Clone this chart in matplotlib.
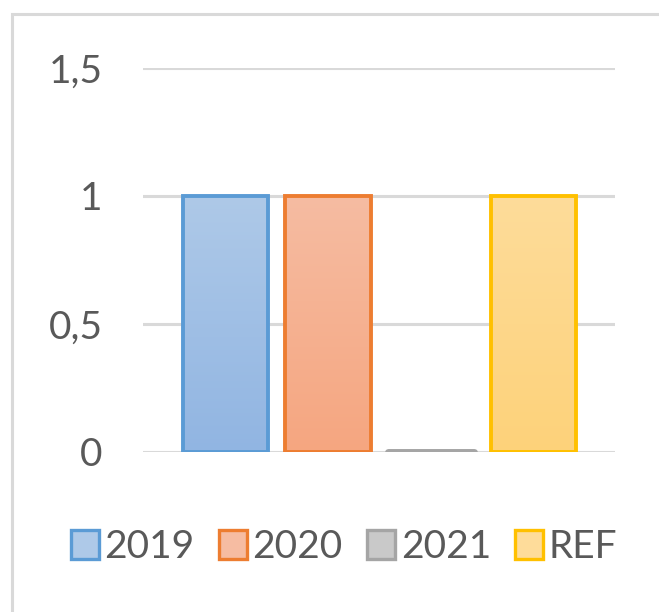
#!/usr/bin/env python3

import numpy as np
import matplotlib.pyplot as plt
from matplotlib.colors import LinearSegmentedColormap
from matplotlib.patches import Rectangle

series = ['2019', '2020', '2021', 'REF']
values = [1, 1, 0, 1]
y_ticks = [0, 0.5, 1, 1.5]
y_tick_labels = ['0', '0,5', '1', '1,5']

edge_colors = ['#5b9bd5', '#ed7d31', '#a5a5a5', '#ffc000']
top_colors = ['#aec9e8', '#f6bca2', '#c9c9c9', '#fedc9a']
bottom_colors = ['#91b5e2', '#f5a680', '#b8b8b8', '#fdd27a']

plt.rcParams['font.family'] = ['Lato', 'DejaVu Sans']

fig = plt.figure(figsize=(6.59, 6.12), dpi=100)
fig.patches.append(Rectangle((12 / 659, -0.1), 1.2, (598 + 61) / 612,
                             transform=fig.transFigure, fill=False,
                             edgecolor='#d9d9d9', linewidth=2.2))

ax = fig.add_axes([143 / 659, 160 / 612, 472 / 659, 384 / 612])
ax.set_xlim(-0.80, 3.79)
ax.set_ylim(0, 1.5)

x = np.arange(len(series))
lws = [2.8 if v > 0 else 5 for v in values]
bars = ax.bar(x, values, width=0.83, color='none', edgecolor=edge_colors,
              linewidth=lws, zorder=3)

grad = np.linspace(0, 1, 256).reshape(-1, 1)
for b, top, bottom, lab in zip(bars, top_colors, bottom_colors, series):
    cmap = LinearSegmentedColormap.from_list('g' + lab, [bottom, top])
    h = b.get_height()
    if h > 0:
        im = ax.imshow(grad, cmap=cmap, origin='lower', aspect='auto',
                       extent=[b.get_x(), b.get_x() + b.get_width(), 0, h],
                       zorder=2)
        im.set_clip_path(b)
    else:
        b.set_joinstyle('round')
        b.set_capstyle('round')

# legend handles
handles = [Rectangle((0, 0), 1, 1, facecolor=c, edgecolor=e, linewidth=2.4)
           for c, e in zip(top_colors, edge_colors)]
fig.legend(handles, series, loc='center', bbox_to_anchor=(344 / 659, 1 - 547 / 612),
           ncol=4, frameon=False, fontsize=28, labelcolor='#595959',
           handlelength=0.72, handleheight=0.78, handletextpad=0.15,
           columnspacing=0.62, borderpad=0, borderaxespad=0)

ax.set_yticks(y_ticks)
ax.set_yticklabels(y_tick_labels)
ax.set_xticks([])
ax.tick_params(axis='y', length=0, pad=29, labelsize=28, labelcolor='#595959')
ax.grid(axis='y', color='#d9d9d9', linewidth=2.2, zorder=0)
for s in ax.spines.values():
    s.set_visible(False)

fig.savefig('out.png', dpi=100)
